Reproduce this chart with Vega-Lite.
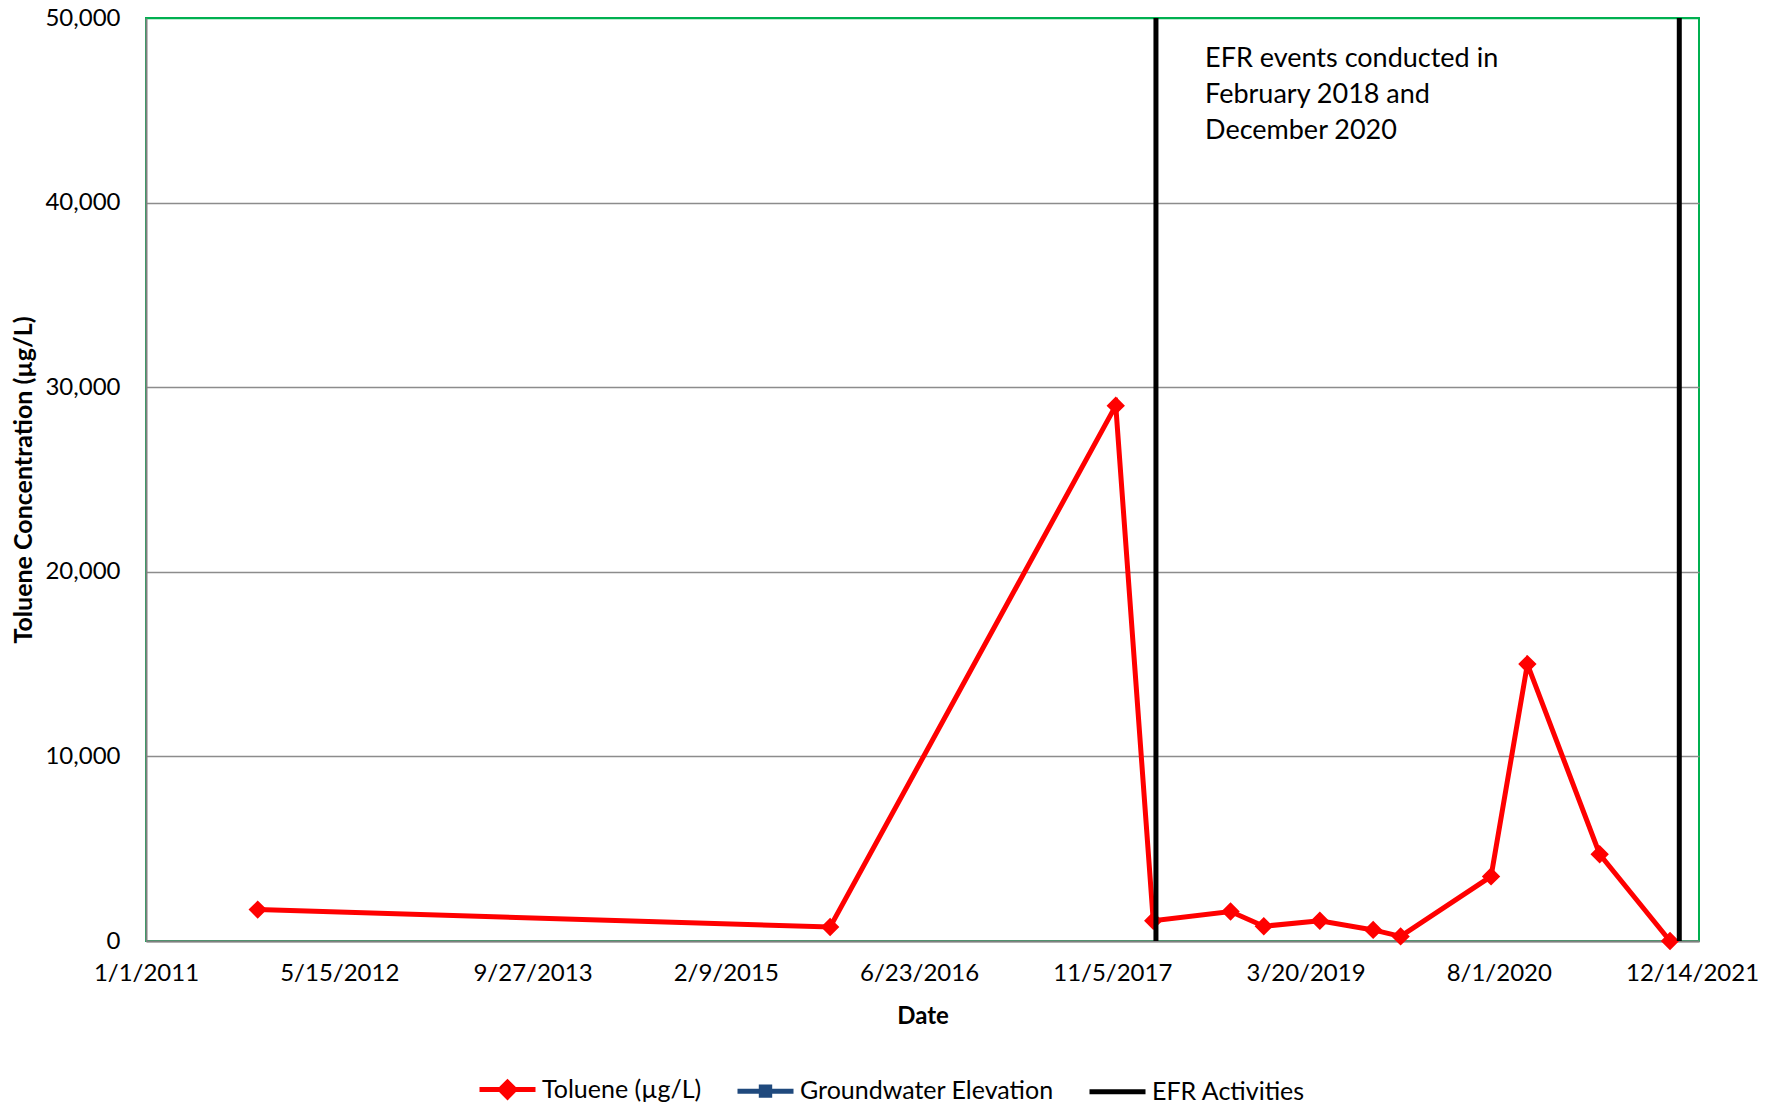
{
  "$schema": "https://vega.github.io/schema/vega-lite/v6.json",
  "width": 1553,
  "height": 923,
  "autosize": "none",
  "padding": {"left": 146, "top": 18, "right": 75, "bottom": 166},
  "background": "white",
  "config": {
    "font": "Lato",
    "view": {"stroke": "#00B050", "strokeWidth": 2},
    "axis": {
      "labelFont": "Lato",
      "titleFont": "Lato",
      "labelColor": "black",
      "titleColor": "black",
      "labelFontSize": 24,
      "titleFontSize": 24,
      "titleFontWeight": "bold",
      "domainColor": "#808080",
      "domainWidth": 2,
      "ticks": false,
      "gridColor": "#8C8C8C",
      "gridWidth": 1.5
    }
  },
  "datasets": {
    "toluene": [
      {"date": "2011-10-17", "value": 1700, "series": "Toluene (µg/L)"},
      {"date": "2015-11-06", "value": 760, "series": "Toluene (µg/L)"},
      {"date": "2017-11-14", "value": 29000, "series": "Toluene (µg/L)"},
      {"date": "2018-02-19", "value": 1100, "series": "Toluene (µg/L)"},
      {"date": "2018-09-07", "value": 1600, "series": "Toluene (µg/L)"},
      {"date": "2018-12-02", "value": 800, "series": "Toluene (µg/L)"},
      {"date": "2019-04-26", "value": 1100, "series": "Toluene (µg/L)"},
      {"date": "2019-09-11", "value": 600, "series": "Toluene (µg/L)"},
      {"date": "2019-11-21", "value": 250, "series": "Toluene (µg/L)"},
      {"date": "2020-07-12", "value": 3500, "series": "Toluene (µg/L)"},
      {"date": "2020-10-14", "value": 15000, "series": "Toluene (µg/L)"},
      {"date": "2021-04-19", "value": 4700, "series": "Toluene (µg/L)"},
      {"date": "2021-10-18", "value": 0, "series": "Toluene (µg/L)"}
    ],
    "efr": [
      {"date": "2018-02-26", "series": "EFR Activities"},
      {"date": "2021-11-11", "series": "EFR Activities"}
    ],
    "note": [
      {"date": "2018-07-03", "value": 48500, "label": "EFR events conducted in\nFebruary 2018 and\nDecember 2020"}
    ]
  },
  "encoding": {
    "x": {
      "field": "date",
      "type": "temporal",
      "scale": {
        "type": "utc",
        "domain": [
          {"year": 2011, "month": 1, "date": 1, "utc": true},
          {"year": 2022, "month": 1, "date": 1, "utc": true}
        ]
      },
      "axis": {
        "title": "Date",
        "grid": false,
        "labelExpr": "utcFormat(datum.value, '%-m/%-d/%Y')",
        "labelFlush": false,
        "labelOverlap": false,
        "labelPadding": 20,
        "titlePadding": 19,
        "values": [
          {"year": 2011, "month": 1, "date": 1, "utc": true},
          {"year": 2012, "month": 5, "date": 15, "utc": true},
          {"year": 2013, "month": 9, "date": 27, "utc": true},
          {"year": 2015, "month": 2, "date": 9, "utc": true},
          {"year": 2016, "month": 6, "date": 23, "utc": true},
          {"year": 2017, "month": 11, "date": 5, "utc": true},
          {"year": 2019, "month": 3, "date": 20, "utc": true},
          {"year": 2020, "month": 8, "date": 1, "utc": true},
          {"year": 2021, "month": 12, "date": 14, "utc": true}
        ]
      }
    },
    "y": {
      "field": "value",
      "type": "quantitative",
      "scale": {"domain": [0, 50000], "nice": false},
      "axis": {
        "title": "Toluene Concentration (µg/L)",
        "titleFontSize": 25,
        "values": [0, 10000, 20000, 30000, 40000, 50000],
        "labelExpr": "format(datum.value, ',')",
        "grid": true,
        "gridColor": {"condition": {"test": "datum.value == 50000", "value": "#00B050"}, "value": "#8C8C8C"},
        "labelPadding": 26,
        "titlePadding": 8
      }
    }
  },
  "layer": [
    {
      "data": {"name": "toluene"},
      "mark": {"type": "line", "strokeWidth": 5},
      "encoding": {
        "color": {
          "field": "series",
          "type": "nominal",
          "scale": {
            "domain": ["Toluene (µg/L)", "Groundwater Elevation", "EFR Activities"],
            "range": ["#FF0000", "#1F497D", "#000000"]
          },
          "legend": {
            "title": null,
            "orient": "none",
            "legendX": 331,
            "legendY": 1041,
            "direction": "horizontal",
            "labelFont": "Lato",
            "labelFontSize": 25,
            "labelColor": "black",
            "labelLimit": 500,
            "symbolSize": 3136,
            "symbolStrokeWidth": 5,
            "labelOffset": 4,
            "columnPadding": 25
          }
        }
      }
    },
    {
      "data": {"name": "toluene"},
      "mark": {"type": "point", "filled": true, "opacity": 1, "size": 5000},
      "encoding": {
        "color": {"field": "series", "type": "nominal"},
        "shape": {
          "field": "series",
          "type": "nominal",
          "scale": {
            "domain": ["Toluene (µg/L)", "Groundwater Elevation", "EFR Activities"],
            "range": [
              "M-1,0H1M0,-0.26L0.26,0L0,0.26L-0.26,0Z",
              "M-1,0H1M-0.15,-0.15H0.15V0.15H-0.15Z",
              "M-1,0H1"
            ]
          }
        }
      }
    },
    {
      "data": {"name": "efr"},
      "mark": {"type": "rule", "strokeWidth": 5},
      "encoding": {
        "y": null,
        "color": {"field": "series", "type": "nominal"}
      }
    },
    {
      "data": {"name": "note"},
      "mark": {"type": "text", "align": "left", "baseline": "top", "fontSize": 27, "lineBreak": "\n", "lineHeight": 36, "font": "Lato", "color": "black"},
      "encoding": {
        "text": {"field": "label"}
      }
    }
  ]
}
